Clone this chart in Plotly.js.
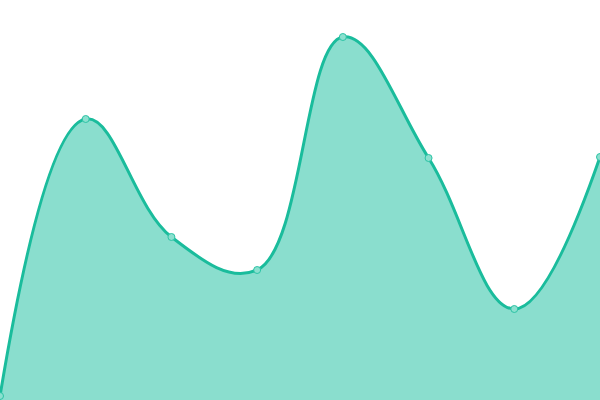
<!DOCTYPE html>
<html>
<head>
<meta charset="utf-8">
<script src="https://cdn.plot.ly/plotly-3.0.1.min.js"></script>
<style>
  html, body { margin: 0; padding: 0; background: #ffffff; }
  #chart { width: 600px; height: 400px; }
</style>
</head>
<body>
<div id="chart"></div>
<script>
var steps = [0, 1, 2, 3, 4, 5, 6, 7];
var values = [4, 281, 163, 130, 363, 242, 91, 243];

function plot_area() {
    'use strict';

    var trace = {
        type: "scatter",
        mode: "lines+markers",
        x: steps,
        y: values,
        fill: "tozeroy",
        fillcolor: "rgba(22, 190, 158, 0.5)",
        line: {color: "#1abc9c", width: 3, shape: "spline", smoothing: 1.15},
        marker: {size: 7, color: "#8be0cf", line: {color: "#2cc3a5", width: 1}},
        cliponaxis: true
    };

    var layout = {
        width: 600,
        height: 400,
        margin: {l: 0, r: 0, t: 0, b: 0, pad: 0},
        paper_bgcolor: "#ffffff",
        plot_bgcolor: "#ffffff",
        showlegend: false,
        xaxis: {range: [0, 7], visible: false, fixedrange: true},
        yaxis: {range: [0, 400], visible: false, fixedrange: true}
    };

    Plotly.newPlot('chart', [trace], layout, {displayModeBar: false, staticPlot: true});
}

plot_area();
</script>
</body>
</html>
